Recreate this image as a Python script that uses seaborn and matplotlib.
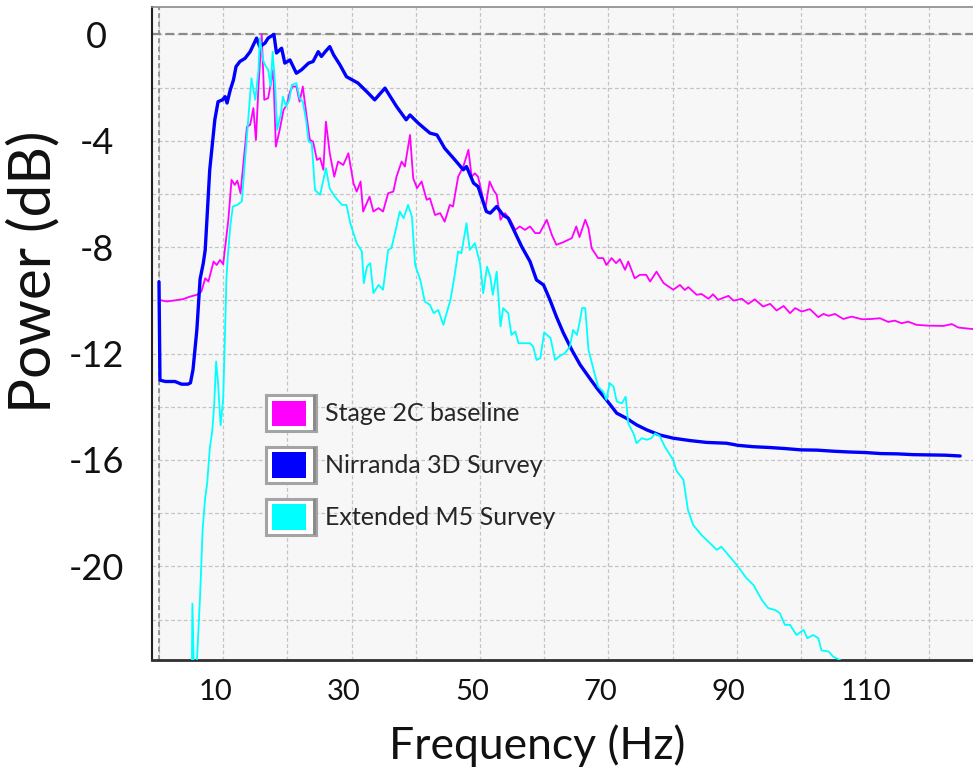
import matplotlib
matplotlib.use("Agg")
import matplotlib.pyplot as plt
import matplotlib.transforms as mtransforms
import pandas as pd
import seaborn as sns
from matplotlib.patches import Patch, Rectangle
from matplotlib.legend_handler import HandlerPatch

# ---------------------------------------------------------------- data
series_names = ["Stage 2C baseline", "Nirranda 3D Survey", "Extended M5 Survey"]
series_colors = ["#ff00ff", "#0000ff", "#00ffff"]
series_widths = [1.3, 2.4, 1.3]

stage_freq = [0.0, 1.2, 2.5, 3.8, 4.8, 5.9, 6.6, 7.2, 7.7, 8.5, 9.0, 9.5, 10.0, 10.5,
              10.8, 11.3, 11.8, 12.2, 12.7, 13.7, 14.2, 14.7, 15.1, 15.5, 16.0, 16.4,
              17.0, 17.8, 18.2, 18.8, 19.4, 19.9, 20.4, 20.8, 21.4, 21.9, 22.4, 23.0,
              23.5, 24.0, 24.6, 25.1, 25.6, 26.0, 26.6, 27.3, 27.9, 28.7, 29.5, 30.3,
              30.8, 31.4, 31.8, 32.8, 33.4, 34.2, 34.9, 35.7, 36.5, 37.0, 37.8, 38.3,
              39.1, 39.6, 40.2, 40.9, 41.7, 42.2, 43.0, 43.8, 44.5, 45.3, 45.8, 46.6,
              47.4, 48.2, 48.7, 49.2, 49.7, 50.3, 50.8, 51.5, 52.1, 52.6, 53.2, 53.9,
              54.7, 55.5, 56.2, 57.0, 57.8, 58.6, 59.3, 60.4, 61.2, 61.9, 63.0, 64.3,
              65.0, 65.5, 66.4, 66.9, 67.4, 68.4, 69.2, 69.7, 70.5, 71.2, 71.8, 72.6,
              73.1, 74.1, 74.9, 75.9, 76.5, 77.5, 78.6, 80.1, 81.15, 81.9, 82.45, 83.75,
              84.5, 85.6, 86.3, 87.1, 88.7, 89.5, 90.8, 91.8, 92.8, 94.1, 95.2, 96.2,
              97.3, 98.3, 99.1, 100.1, 101.4, 102.7, 103.5, 104.3, 105.3, 106.6, 107.9,
              109.5, 111.0, 112.3, 113.6, 114.6, 115.7, 116.7, 118.0, 119.8, 122.2,
              123.5, 124.5, 126.8]
stage_db = [-9.98, -10.04, -10.0, -9.95, -9.86, -9.79, -9.67, -9.17, -9.29, -8.54, -8.67,
            -8.48, -8.64, -7.6, -6.97, -5.47, -5.66, -5.5, -5.97, -3.47, -3.4, -2.77,
            -3.97, -1.96, 0.0, -2.46, -2.4, -1.33, -4.22, -3.59, -2.84, -2.65, -2.15,
            -1.96, -1.96, -2.53, -1.96, -3.09, -3.97, -4.03, -4.72, -4.65, -5.09, -3.28,
            -4.47, -5.35, -4.78, -4.91, -4.47, -5.6, -5.91, -5.53, -6.66, -6.1, -6.66,
            -6.53, -6.66, -5.97, -5.91, -5.35, -4.78, -4.97, -3.78, -5.41, -5.78, -5.53,
            -6.22, -6.16, -6.79, -6.72, -7.04, -6.41, -6.47, -5.35, -4.97, -4.34, -5.35,
            -5.22, -5.35, -5.97, -6.6, -5.53, -5.85, -6.03, -6.97, -6.72, -6.97, -7.35,
            -7.22, -7.35, -7.22, -7.47, -7.47, -6.97, -7.54, -7.91, -7.81, -7.66, -7.22,
            -7.62, -6.97, -7.29, -8.04, -8.41, -8.41, -8.67, -8.41, -8.6, -8.45, -8.85,
            -8.54, -9.17, -9.04, -9.04, -9.29, -8.92, -9.35, -9.6, -9.42, -9.61, -9.5,
            -9.79, -9.76, -9.94, -9.77, -9.98, -9.83, -10.01, -9.94, -10.13, -9.96,
            -10.23, -10.13, -10.38, -10.21, -10.48, -10.29, -10.42, -10.33, -10.63,
            -10.51, -10.58, -10.51, -10.7, -10.61, -10.71, -10.7, -10.67, -10.81, -10.76,
            -10.86, -10.8, -10.92, -10.95, -10.96, -10.89, -11.02, -11.08]

nirranda_freq = [0.0, 0.15, 1.0, 2.5, 3.5, 4.5, 4.9, 5.3, 5.9, 6.4, 6.9, 7.2, 7.9, 8.7,
                 9.2, 9.9, 10.3, 10.6, 11.1, 11.6, 12.0, 12.6, 13.4, 14.2, 15.2, 15.7,
                 16.5, 17.0, 17.9, 18.3, 19.1, 19.6, 20.4, 21.4, 22.2, 23.3, 24.0, 24.8,
                 25.3, 25.9, 26.6, 27.2, 28.2, 29.2, 31.0, 32.6, 33.6, 35.2, 37.0, 38.5,
                 39.1, 40.4, 42.2, 43.3, 44.5, 46.1, 47.4, 47.9, 49.0, 49.7, 51.0, 51.6,
                 52.6, 53.6, 54.4, 55.5, 56.5, 57.8, 58.8, 59.9, 60.9, 61.9, 63.0, 64.3,
                 65.6, 67.1, 68.4, 69.7, 71.3, 72.8, 74.4, 76.0, 78.0, 80.1, 82.7, 85.3,
                 88.4, 90.2, 92.5, 95.0, 97.5, 100.0, 102.5, 105.0, 107.5, 110.0, 112.5,
                 115.0, 117.5, 120.0, 122.5, 124.8]
nirranda_db = [-9.3, -13.0, -13.05, -13.05, -13.15, -13.15, -13.1, -12.6, -11.1, -9.2,
               -8.6, -8.1, -5.1, -3.2, -2.53, -2.46, -2.34, -2.58, -2.09, -1.71, -1.21,
               -1.02, -0.9, -0.65, -0.14, -0.46, -0.33, -0.14, 0.0, -0.7, -0.52, -1.08,
               -0.96, -1.46, -1.33, -1.08, -1.02, -0.65, -0.83, -0.65, -0.46, -0.77,
               -1.15, -1.59, -1.83, -2.21, -2.46, -2.02, -2.71, -3.21, -3.03, -3.34,
               -3.71, -3.78, -4.28, -4.72, -5.09, -4.97, -5.59, -5.72, -6.66, -6.72,
               -6.47, -6.79, -6.91, -7.47, -7.98, -8.54, -9.23, -9.42, -9.98, -10.61,
               -11.23, -11.86, -12.42, -12.93, -13.36, -13.74, -14.24, -14.43, -14.68,
               -14.87, -15.06, -15.18, -15.27, -15.34, -15.37, -15.45, -15.5, -15.53,
               -15.57, -15.62, -15.63, -15.67, -15.7, -15.72, -15.76, -15.77, -15.8,
               -15.81, -15.82, -15.85]

extended_freq = [5.1, 5.2, 5.5, 5.9, 6.4, 6.8, 7.2, 7.5, 7.9, 8.3, 8.6, 8.9, 9.2, 9.6,
                 10.0, 10.3, 10.5, 10.7, 11.1, 11.5, 12.2, 12.9, 13.4, 13.9, 14.4, 15.0,
                 15.5, 15.7, 16.2, 16.5, 17.0, 17.4, 17.7, 18.1, 18.4, 19.0, 19.3, 19.8,
                 20.3, 20.7, 21.4, 21.9, 22.4, 22.9, 23.3, 23.8, 24.3, 25.1, 25.5, 26.0,
                 26.6, 27.4, 28.5, 29.2, 29.8, 30.8, 31.6, 31.9, 32.4, 32.9, 33.4, 34.2,
                 34.9, 35.7, 36.2, 37.0, 37.5, 38.1, 38.8, 39.4, 39.9, 40.7, 41.4, 42.2,
                 42.8, 43.5, 44.3, 44.8, 45.4, 46.1, 46.6, 47.1, 47.9, 48.4, 49.2, 50.0,
                 50.5, 51.1, 51.6, 52.0, 52.6, 53.2, 53.6, 54.4, 54.9, 55.5, 56.0, 57.0,
                 57.8, 58.3, 58.8, 59.4, 60.0, 61.0, 61.7, 62.5, 63.2, 64.0, 64.5, 65.1,
                 65.6, 65.9, 66.4, 66.9, 67.7, 68.4, 69.2, 69.7, 70.2, 70.8, 71.3, 72.1,
                 72.7, 73.1, 73.9, 74.4, 75.2, 76.0, 76.7, 77.3, 78.0, 78.8, 79.6, 80.1,
                 80.6, 81.7, 82.4, 83.2, 84.5, 86.1, 86.9, 87.6, 88.9, 90.2, 91.5, 92.6,
                 93.9, 94.9, 96.0, 96.7, 97.5, 98.3, 99.3, 100.4, 101.0, 101.9, 102.7,
                 103.2, 104.3, 105.0, 106.3, 106.6]
extended_db = [-24.5, -21.4, -24.5, -23.6, -21.1, -18.6, -17.4, -16.9, -15.6, -14.9,
               -13.9, -12.3, -13.1, -14.7, -13.7, -11.1, -9.2, -8.4, -7.22, -6.47, -6.41,
               -6.28, -4.72, -3.21, -1.65, -2.46, -1.33, -0.14, -0.96, -1.15, -1.33,
               -1.96, -0.65, -1.96, -3.59, -2.96, -2.34, -2.71, -2.46, -1.9, -1.83, -2.4,
               -2.53, -3.21, -4.03, -4.09, -5.85, -6.03, -5.59, -5.03, -5.8, -6.1, -6.41,
               -6.41, -7.1, -7.85, -8.16, -9.35, -8.73, -8.6, -9.73, -9.42, -9.6, -8.1,
               -8.04, -7.22, -6.66, -6.91, -6.41, -6.85, -8.67, -9.23, -10.04, -10.17,
               -10.48, -10.36, -10.92, -10.48, -9.98, -8.98, -8.16, -8.23, -7.1, -8.1,
               -7.85, -8.6, -9.73, -8.73, -9.1, -9.79, -8.92, -10.98, -10.29, -10.48,
               -11.3, -11.17, -11.61, -11.61, -11.61, -11.74, -12.24, -12.17, -11.2,
               -11.42, -12.24, -12.08, -11.99, -11.74, -11.11, -11.3, -10.73, -10.29,
               -10.29, -11.86, -12.61, -13.24, -13.43, -13.74, -13.11, -13.24, -13.8,
               -13.87, -13.62, -14.62, -15.0, -15.37, -15.18, -15.24, -15.18, -15.0,
               -15.1, -15.5, -15.81, -16.0, -16.4, -16.75, -17.88, -18.44, -18.82,
               -19.19, -19.38, -19.26, -19.63, -20.01, -20.44, -20.7, -21.26, -21.57,
               -21.64, -21.76, -22.2, -22.2, -22.58, -22.39, -22.7, -22.58, -22.7,
               -23.16, -23.2, -23.39, -23.55, -23.6]

x_ticks = [0, 10, 20, 30, 40, 50, 60, 70, 80, 90, 100, 110, 120]
x_tick_labels = ["", "10", "", "30", "", "50", "", "70", "", "90", "", "110", ""]
y_ticks = [0, -2, -4, -6, -8, -10, -12, -14, -16, -18, -20, -22]
y_tick_labels = ["0", "", "-4", "", "-8", "", "-12", "", "-16", "", "-20", ""]


class BevelSwatch(HandlerPatch):
    """Legend key drawn as a grey framed button holding a colour square."""

    def create_artists(self, legend, orig_handle, xdescent, ydescent,
                       width, height, fontsize, trans):
        x0, y0 = -xdescent, -ydescent
        frame = Rectangle((x0, y0), width, height, facecolor="white",
                          edgecolor="#a4a4a4", linewidth=2.2, transform=trans)
        shade = Rectangle((x0 + width - 2.5, y0), 2.5, height, facecolor="#8c8c8c",
                          edgecolor="none", transform=trans)
        ix, iy = 4.0, 4.0
        inner = Rectangle((x0 + ix, y0 + iy), width - 2 * ix - 3, height - 2 * iy,
                          facecolor=orig_handle.get_facecolor(), edgecolor="none",
                          transform=trans)
        return [frame, shade, inner]


# ---------------------------------------------------------------- frame
frames = []
for name, f, d in [(series_names[0], stage_freq, stage_db),
                   (series_names[1], nirranda_freq, nirranda_db),
                   (series_names[2], extended_freq, extended_db)]:
    frames.append(pd.DataFrame({"Frequency": f, "Power": d, "Series": name}))
spectra = pd.concat(frames, ignore_index=True)

sns.set_theme(style="white")
plt.rcParams["font.family"] = ["Lato", "DejaVu Sans"]

fig = plt.figure(figsize=(9.73, 7.73), dpi=100)
ax = fig.add_axes([152 / 973, 113 / 773, 821 / 973, 653 / 773])
ax.set_facecolor("#f7f7f7")

for name, color, lw in zip(series_names, series_colors, series_widths):
    sns.lineplot(data=spectra[spectra["Series"] == name], x="Frequency", y="Power",
                 color=color, linewidth=lw, estimator=None, sort=False,
                 legend=False, ax=ax, zorder=3)

# reference lines at 0 Hz and 0 dB
ax.axhline(0, color="#8a8a8a", linestyle=(0, (4, 2)), linewidth=1.6, zorder=2)
ax.axvline(0, color="#8a8a8a", linestyle=(0, (3, 2)), linewidth=1.2, zorder=2)

ax.set_xlim(-1.09, 126.8)
ax.set_ylim(-23.52, 1.03)
ax.set_xticks(x_ticks)
ax.set_xticklabels(x_tick_labels)
ax.set_yticks(y_ticks)
ax.set_yticklabels(y_tick_labels)

ax.grid(True, color="#c4c4c4", linestyle=(0, (3, 2)), linewidth=0.9)
ax.set_axisbelow(True)

ax.tick_params(axis="both", which="major", direction="out", length=5, width=1,
               color="#505050", labelcolor="#111111")
ax.tick_params(axis="x", pad=9, labelsize=21)
ax.tick_params(axis="y", pad=35, labelsize=26)

# x labels sit just left of their tick; y labels are centred in the margin
shift_x = mtransforms.ScaledTranslation(-25 / 100, 0, fig.dpi_scale_trans)
for lab in ax.get_xticklabels():
    lab.set_horizontalalignment("left")
    lab.set_transform(lab.get_transform() + shift_x)
for lab in ax.get_yticklabels():
    lab.set_horizontalalignment("center")

for side in ["left", "bottom", "top"]:
    ax.spines[side].set_visible(True)
ax.spines["left"].set_color("#202020")
ax.spines["left"].set_linewidth(1.5)
ax.spines["bottom"].set_color("#303030")
ax.spines["bottom"].set_linewidth(2.0)
ax.spines["top"].set_color("#8a8a8a")
ax.spines["top"].set_linewidth(1.2)
ax.spines["right"].set_visible(False)

ax.set_xlabel("Frequency (Hz)", fontsize=32, color="#111111")
ax.xaxis.label.set_va("center")
ax.xaxis.set_label_coords((537 - 152) / 821, (660 - 746) / 653)
ax.set_ylabel("Power (dB)", fontsize=42, color="#111111")
ax.yaxis.label.set_va("center")
ax.yaxis.set_label_coords((34 - 152) / 821, (660 - 272) / 653)

handles = [Patch(facecolor=c) for c in series_colors]
ax.legend(handles, series_names, loc="upper left",
          bbox_to_anchor=((266 - 152) / 821, (660 - 395) / 653),
          handler_map={Patch: BevelSwatch()},
          frameon=False, fontsize=18, handlelength=2.0, handleheight=1.85,
          handletextpad=0.35, labelspacing=0.63, borderpad=0, borderaxespad=0)

fig.savefig("out.png", dpi=100)
